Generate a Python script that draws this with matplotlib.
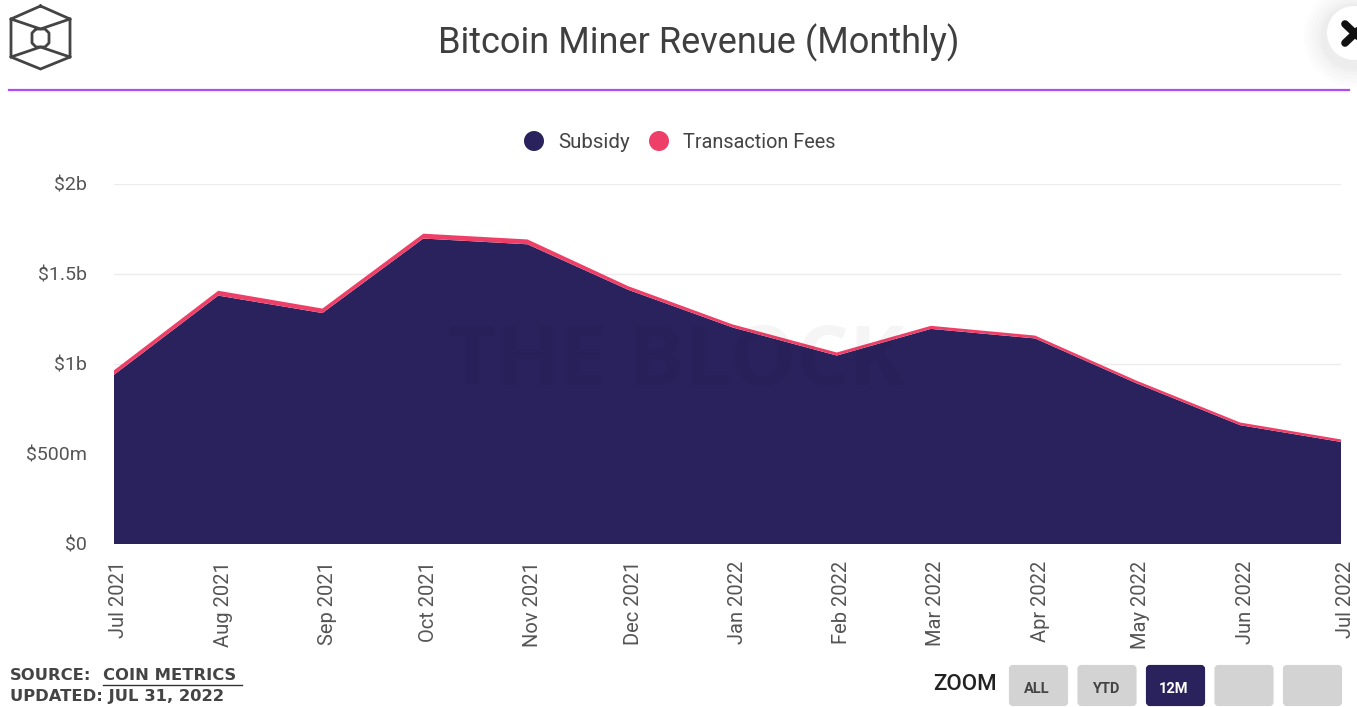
import matplotlib
matplotlib.use('Agg')
import matplotlib.pyplot as plt
import matplotlib.transforms as mtrans
from matplotlib.patches import FancyBboxPatch, Circle
from matplotlib.lines import Line2D
import pandas as pd

plt.rcParams['font.family'] = ['Roboto', 'DejaVu Sans']

months = ['2021-07-01','2021-08-01','2021-09-01','2021-10-01','2021-11-01','2021-12-01','2022-01-01',
          '2022-02-01','2022-03-01','2022-04-01','2022-05-01','2022-06-01','2022-07-01']
subsidy = [0.940, 1.380, 1.283, 1.697, 1.665, 1.412, 1.203, 1.047, 1.195, 1.142, 0.894, 0.660, 0.567]
fees = [0.025, 0.027, 0.025, 0.027, 0.027, 0.020, 0.017, 0.017, 0.017, 0.016, 0.015, 0.015, 0.014]
tick_labels = ['Jul 2021','Aug 2021','Sep 2021','Oct 2021','Nov 2021','Dec 2021','Jan 2022',
               'Feb 2022','Mar 2022','Apr 2022','May 2022','Jun 2022','Jul 2022']
y_ticks = [0, 0.5, 1, 1.5, 2]
y_labels = ['$0', '$500m', '$1b', '$1.5b', '$2b']
zoom_labels = ['ALL', 'YTD', '12M', '', '']

NAVY = '#2a225c'
PINK = '#ee3f68'
W, H = 1357, 707
fig = plt.figure(figsize=(W/100, H/100), dpi=100, facecolor='white')

# overlay in pixel coordinates, for page furniture
bg = fig.add_axes([0, 0, 1, 1], zorder=0)
bg.set_xlim(0, W); bg.set_ylim(H, 0); bg.axis('off')

# plot area
L, R, T, B = 114, 1341, 184, 544
ax = fig.add_axes([L/W, 1-B/H, (R-L)/W, (B-T)/H], zorder=1)
ax.patch.set_alpha(0)
dates = pd.to_datetime(months)
ax.stackplot(dates, subsidy, fees, colors=[NAVY, PINK], linewidth=0, zorder=2)
ax.set_xlim(dates[0], dates[-1])
ax.set_ylim(0, 2)
ax.set_yticks(y_ticks)
ax.set_yticklabels(y_labels, fontsize=14, color='#555555')
ax.set_xticks(dates)
ax.set_xticklabels(tick_labels, rotation=90, fontsize=14.5, color='#555555', ha='center', va='top')
ax.tick_params(axis='both', length=0)
ax.tick_params(axis='y', pad=19.5)
ax.tick_params(axis='x', pad=12)
ax.grid(axis='y', color='#ececec', linewidth=1, zorder=1)
ax.set_axisbelow(True)
for s in ax.spines.values():
    s.set_visible(False)

# tick labels sit a little off their ticks
xoff = mtrans.ScaledTranslation(5/100, 0, fig.dpi_scale_trans)
for lab in ax.get_xticklabels():
    lab.set_transform(lab.get_transform() + xoff)

# watermark on top of the chart
bg2 = fig.add_axes([0, 0, 1, 1], zorder=2)
bg2.set_xlim(0, W); bg2.set_ylim(H, 0); bg2.axis('off')
bg2.patch.set_alpha(0)
bg2.text(676, 364, 'THE BLOCK', fontsize=60, fontweight='bold', color='#000000', alpha=0.04,
         ha='center', va='center', family='Open Sans')

# title and rule
bg.text(699, 43, 'Bitcoin Miner Revenue (Monthly)', fontsize=26, color='#3f3f3f', ha='center', va='center')
bg.add_line(Line2D([9, 1349], [90, 90], color='#b44af0', lw=1.6))

# logo
c = '#444444'
hexa = [(40.5, 6), (70, 19), (70, 57), (40.5, 69), (11, 57), (11, 19), (40.5, 6)]
bg.plot(*zip(*hexa), color=c, lw=2, solid_joinstyle='miter')
bg.plot([11, 40.5, 70], [19, 29, 19], color=c, lw=2)
bg.plot([11, 40.5, 70], [57, 47, 57], color=c, lw=2)
inner = [(36, 29), (45, 29), (49, 33), (49, 43), (45, 47), (36, 47), (32, 43), (32, 33), (36, 29)]
bg.plot(*zip(*inner), color=c, lw=2)

# legend
bg.add_patch(Circle((534, 141), 10, color=NAVY, lw=0))
bg.text(558, 142, 'Subsidy', fontsize=14.8, color='#444444', va='center')
bg.add_patch(Circle((659, 141), 10, color=PINK, lw=0))
bg.text(683, 142, 'Transaction Fees', fontsize=14.3, color='#444444', va='center')

# source
src_font = dict(fontsize=11.8, color='#444444', va='center', family='DejaVu Sans', fontweight='bold')
bg.text(10, 675, 'SOURCE:', **src_font)
bg.text(103, 675, 'COIN METRICS', **src_font)
bg.add_line(Line2D([103, 242], [685, 685], color='#333333', lw=1))
bg.text(10, 697, 'UPDATED: JUL 31, 2022', **src_font)

# zoom buttons
bg.text(965, 685, 'ZOOM', fontsize=16, color='#222222', ha='center', va='center', fontweight='medium')
for i, lab in enumerate(zoom_labels):
    x0 = 1009 + i*68.5
    active = lab == '12M'
    bg.add_patch(FancyBboxPatch((x0+2, 667), 55, 37, boxstyle='round,pad=0,rounding_size=2',
                                mutation_aspect=1, fc=NAVY if active else '#d3d3d3',
                                ec=NAVY if active else '#d3d3d3', lw=3))
    bg.text(x0+28, 689, lab, fontsize=10.5, fontweight='bold', ha='center', va='center',
            color='white' if active else '#444444')

# close button with soft shadow
for r, a in zip([50, 46, 42, 38, 35, 33], [0.012]*6):
    bg.add_patch(Circle((1354, 37), r, color='black', alpha=a, lw=0))
bg.add_patch(Circle((1354, 33), 27, color='white', lw=0))
bg.plot([1345, 1365], [24, 43], color='#111111', lw=5.5, solid_capstyle='round')
bg.plot([1345, 1365], [43, 24], color='#111111', lw=5.5, solid_capstyle='round')

fig.savefig('out.png', dpi=100)
